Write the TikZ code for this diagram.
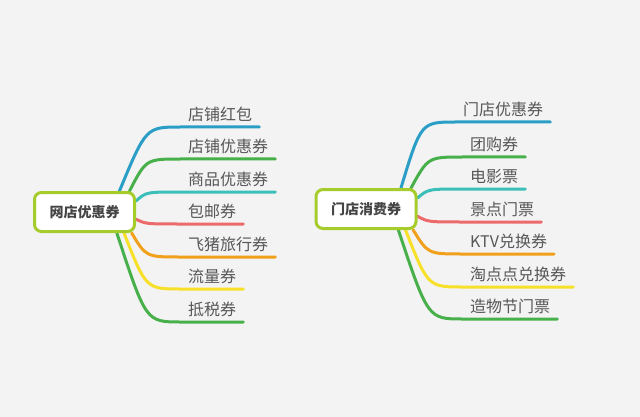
\documentclass[tikz,border=0pt]{standalone}
\usepackage{fontspec}
\newfontfamily\cjk{Noto Sans CJK SC}
\usetikzlibrary{calc}
\pgfdeclarelayer{bg}
\pgfsetlayers{bg,main}
\definecolor{bgc}{HTML}{F4F3F3}
\definecolor{rootc}{HTML}{A6CC2C}
\definecolor{roott}{HTML}{444444}
\definecolor{leaft}{HTML}{575757}
\definecolor{cblue}{HTML}{2A9EC6}
\definecolor{cgreen}{HTML}{47B04B}
\definecolor{cteal}{HTML}{3BBFB8}
\definecolor{cred}{HTML}{EC6A6A}
\definecolor{corange}{HTML}{F0A01A}
\definecolor{cyellow}{HTML}{F7E02A}
\begin{document}
\begin{tikzpicture}[x=1pt,y=-1pt,
  root/.style={draw=rootc, line width=3pt, fill=white, rounded corners=7pt,
    minimum width=100pt, minimum height=39pt, inner sep=0pt,
    font=\cjk\bfseries\fontsize{14}{14}\selectfont, text=roott},
  leaf/.style={anchor=south west, inner xsep=7pt, inner ysep=6pt, text depth=0pt,
    font=\cjk\fontsize{16}{16}\selectfont, text=leaft},
  br/.style={line width=3pt, line cap=round, draw=#1},
]
\useasboundingbox (0,0) rectangle (640,417);

% left map
\node[root] (L) at (84.5,212) {网店优惠券};
\node[leaf] (l1) at (181,127) {店铺红包};
\node[leaf] (l2) at (181,159) {店铺优惠券};
\node[leaf] (l3) at (181,192) {商品优惠券};
\node[leaf] (l4) at (181,224) {包邮券};
\node[leaf] (l5) at (181,257) {飞猪旅行券};
\node[leaf] (l6) at (181,289) {流量券};
\node[leaf] (l7) at (181,322) {抵税券};

% right map
\node[root] (R) at (366,209) {门店消费券};
\node[leaf] (r1) at (456,122) {门店优惠券};
\node[leaf] (r2) at (463,157) {团购券};
\node[leaf] (r3) at (463,189) {电影票};
\node[leaf] (r4) at (463,222) {景点门票};
\node[leaf] (r5) at (463,254) {KTV兑换券};
\node[leaf] (r6) at (463,287) {淘点点兑换券};
\node[leaf] (r7) at (463,319) {造物节门票};

\begin{pgfonlayer}{bg}
\fill[bgc] (0,0) rectangle (640,417);
\draw[br=cblue]   (L.31)  .. controls ($(l1.south west)+(-35,0)$) .. (l1.south west) -- (l1.south east);
\draw[br=cgreen]  (L.25)  .. controls ($(l2.south west)+(-35,0)$) .. (l2.south west) -- (l2.south east);
\draw[br=cteal]   (L.12)  .. controls ($(l3.south west)+(-35,0)$) .. (l3.south west) -- (l3.south east);
\draw[br=cred]    (L.-8)  .. controls ($(l4.south west)+(-35,0)$) .. (l4.south west) -- (l4.south east);
\draw[br=corange] (L.-24) .. controls ($(l5.south west)+(-35,0)$) .. (l5.south west) -- (l5.south east);
\draw[br=cyellow] (L.-28) .. controls ($(l6.south west)+(-35,0)$) .. (l6.south west) -- (l6.south east);
\draw[br=cgreen]  (L.-33) .. controls ($(l7.south west)+(-35,0)$) .. (l7.south west) -- (l7.south east);

\draw[br=cblue]   (R.31)  .. controls ($(r1.south west)+(-35,0)$) .. (r1.south west) -- (r1.south east);
\draw[br=cgreen]  (R.25)  .. controls ($(r2.south west)+(-35,0)$) .. (r2.south west) -- (r2.south east);
\draw[br=cteal]   (R.12)  .. controls ($(r3.south west)+(-35,0)$) .. (r3.south west) -- (r3.south east);
\draw[br=cred]    (R.-8)  .. controls ($(r4.south west)+(-35,0)$) .. (r4.south west) -- (r4.south east);
\draw[br=corange] (R.-24) .. controls ($(r5.south west)+(-35,0)$) .. (r5.south west) -- (r5.south east);
\draw[br=cyellow] (R.-28) .. controls ($(r6.south west)+(-35,0)$) .. (r6.south west) -- (r6.south east);
\draw[br=cgreen]  (R.-33) .. controls ($(r7.south west)+(-35,0)$) .. (r7.south west) -- (r7.south east);
\end{pgfonlayer}
\end{tikzpicture}
\end{document}
